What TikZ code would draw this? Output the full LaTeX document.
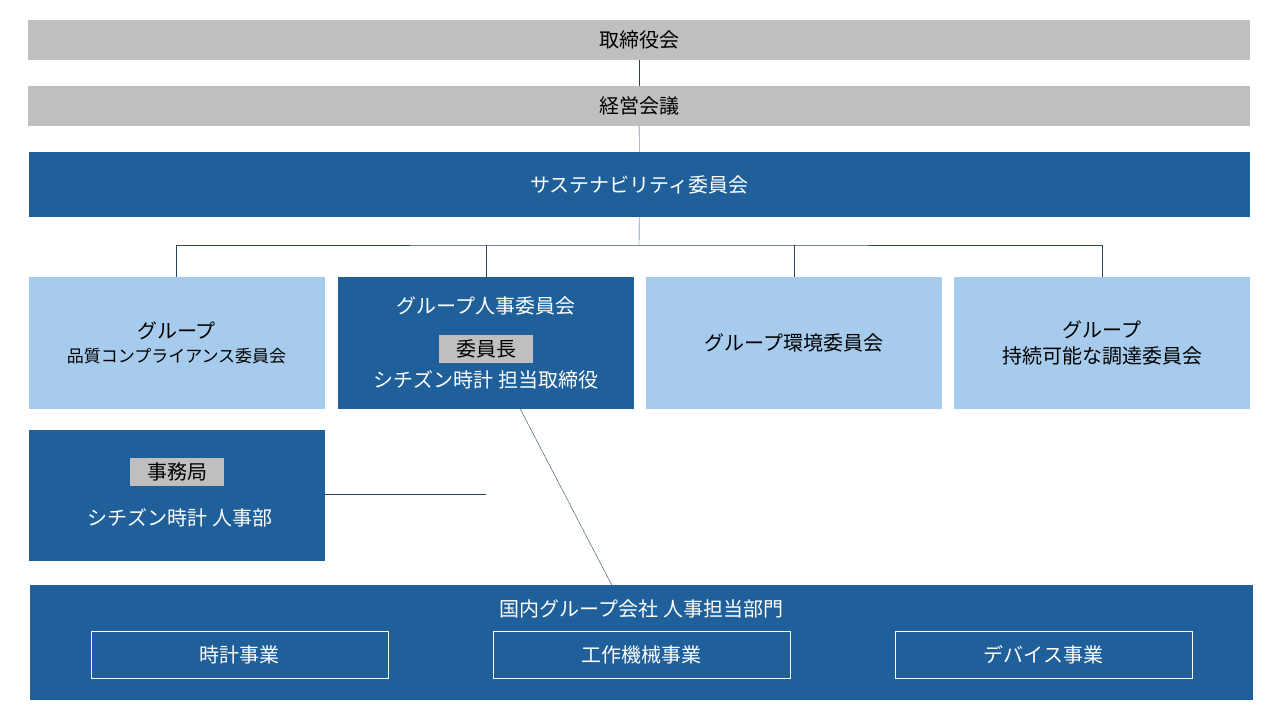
\documentclass[tikz,border=0pt]{standalone}
\usepackage{fontspec}
\setmainfont{Noto Sans CJK JP}
\usetikzlibrary{positioning}
\definecolor{barGray}{RGB}{191,191,191}
\definecolor{darkBlue}{RGB}{31,95,154}
\definecolor{lightBlue}{RGB}{166,203,236}
\definecolor{lineBlue}{RGB}{40,70,100}
\tikzset{
  box/.style={draw=none,inner sep=0pt,align=center,font=\fontsize{20}{26}\selectfont},
  graybar/.style={box,fill=barGray,minimum width=1222pt,minimum height=40pt},
  darkbox/.style={box,fill=darkBlue,text=white,minimum width=296pt,minimum height=132pt},
  lightbox/.style={box,fill=lightBlue,text=black,minimum width=296pt,minimum height=132pt},
  tag/.style={fill=barGray,text=black,inner sep=0pt,minimum width=94pt,minimum height=28pt},
  unitbox/.style={box,draw=white,thick,text=white,minimum width=297pt,minimum height=47pt},
  conn/.style={draw=lineBlue,thin}
}
\begin{document}
\begin{tikzpicture}[x=1pt,y=-1pt]
\useasboundingbox (0,0) rectangle (1280,720);
\node[graybar] (board) at (639,40) {取締役会};
\node[graybar] (mgmt) at (639,106) {経営会議};
\node[box,fill=darkBlue,text=white,minimum width=1221pt,minimum height=65pt] (sust) at (639.5,184.5) {サステナビリティ委員会};

\node[lightbox] (qual) at (176.5,343) {グループ\\[-2pt]{\fontsize{17}{22}\selectfont 品質コンプライアンス委員会}};
\node[darkbox] (hr) at (486,343) {};
\node[lightbox] (env) at (794,343) {グループ環境委員会};
\node[lightbox] (proc) at (1102,343) {グループ\\持続可能な調達委員会};

\node[box,text=white] (hrtitle) at (486,306) {グループ人事委員会};
\node[tag,font=\fontsize{20}{24}\selectfont] (chair) at (486,349) {委員長};
\node[box,text=white] (hrhead) at (486,380) {シチズン時計 担当取締役};

\node[darkbox,minimum height=131pt] (sec) at (177,495.5) {};
\node[tag,font=\fontsize{20}{24}\selectfont] (sectag) at (177,472) {事務局};
\node[box,text=white] (secname) at (180,518) {シチズン時計 人事部};

\node[box,fill=darkBlue,minimum width=1223pt,minimum height=115pt] (dom) at (641.5,642.5) {};
\node[box,text=white] (domtitle) at (641.5,609) {国内グループ会社 人事担当部門};
\node[unitbox] (watch) at (239.5,654.5) {時計事業};
\node[unitbox] (mach) at (641.5,654.5) {工作機械事業};
\node[unitbox] (dev) at (1043.5,654.5) {デバイス事業};

\coordinate (hub) at (639,245);
\coordinate (join) at (486,494);
\path[conn] (board) -- (mgmt);
\path[conn] (mgmt) -- (sust);
\path[conn] (sust) -- (hub);
\path[conn] (qual.north) |- (hub) -| (proc.north);
\path[conn] (hr.north) -- (hr.north |- hub);
\path[conn] (env.north) -- (env.north |- hub);
\path[conn] (hr) -- (dom);
\path[conn] (sec.east |- join) -- (join);
\end{tikzpicture}
\end{document}
